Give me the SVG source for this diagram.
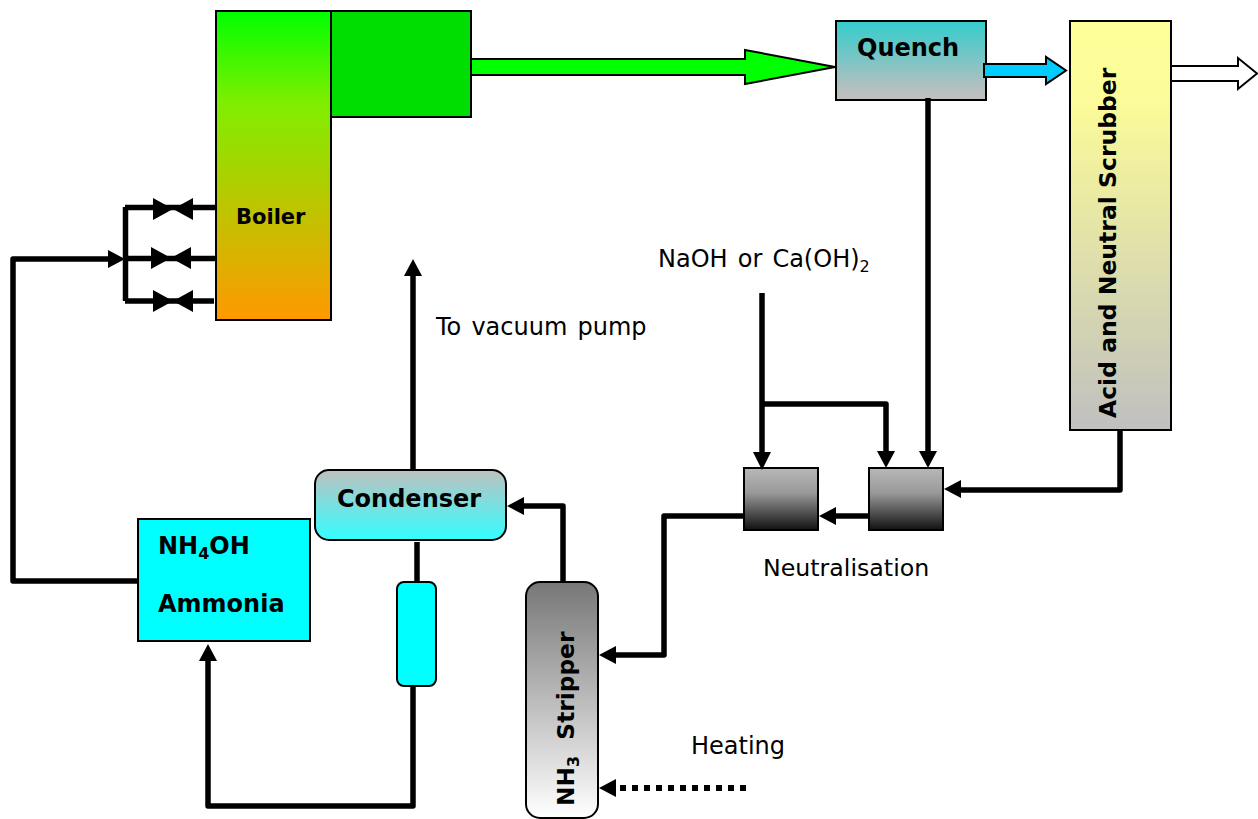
<svg xmlns="http://www.w3.org/2000/svg" width="1258" height="819" viewBox="0 0 1258 819">
<style>
.box{stroke:#000;stroke-width:2}
.w{fill:none;stroke:#000;stroke-width:5.5;stroke-linejoin:round}
.ah{fill:#000;stroke:none}
text{font-family:"DejaVu Sans",Verdana,sans-serif;fill:#000}
.l{font-size:24px;word-spacing:2.5px}
.b{font-size:24px;font-weight:bold}
</style>
<defs>
<linearGradient id="gBoiler" x1="0" y1="0" x2="0" y2="1"><stop offset="0" stop-color="#00ff00"/><stop offset="0.3" stop-color="#80ee00"/><stop offset="1" stop-color="#ff9900"/></linearGradient>
<linearGradient id="gQuench" x1="0" y1="0" x2="0" y2="1"><stop offset="0" stop-color="#33cccc"/><stop offset="0.9" stop-color="#bbbfbf"/><stop offset="1" stop-color="#c0c0c0"/></linearGradient>
<linearGradient id="gScrub" x1="0" y1="0" x2="0" y2="1"><stop offset="0" stop-color="#ffff99"/><stop offset="0.2" stop-color="#fbfb99"/><stop offset="1" stop-color="#c0c0c0"/></linearGradient>
<linearGradient id="gTank" x1="0" y1="0" x2="0" y2="1"><stop offset="0" stop-color="#b8b8b8"/><stop offset="0.4" stop-color="#999"/><stop offset="1" stop-color="#111"/></linearGradient>
<linearGradient id="gCond" x1="0" y1="0" x2="0" y2="1"><stop offset="0" stop-color="#c0c0c0"/><stop offset="1" stop-color="#33ffff"/></linearGradient>
<linearGradient id="gStrip" x1="0" y1="0" x2="0" y2="1"><stop offset="0" stop-color="#777"/><stop offset="1" stop-color="#fff"/></linearGradient>
</defs>
<g id="boiler">
<rect class="box" x="216" y="11" width="115" height="309" fill="url(#gBoiler)"/>
<rect class="box" x="331" y="11" width="140" height="106" fill="#00dd00"/>
<text x="236" y="224" font-size="21" font-weight="bold">Boiler</text>
</g>
<g id="quench">
<rect class="box" x="836" y="21" width="150" height="79" fill="url(#gQuench)"/>
<text x="857" y="56" class="b">Quench</text>
</g>
<g id="scrubber">
<rect class="box" x="1070" y="21" width="101" height="409" fill="url(#gScrub)"/>
<text transform="translate(1116 418) rotate(-90)" class="b" style="font-size:23.5px">Acid and Neutral Scrubber</text>
</g>
<g id="tank1"><rect class="box" x="744" y="468" width="74" height="62" fill="url(#gTank)"/></g>
<g id="tank2"><rect class="box" x="869" y="468" width="74" height="62" fill="url(#gTank)"/></g>
<g id="condenser">
<rect class="box" x="315" y="470" width="191" height="70" rx="14" fill="url(#gCond)"/>
<text x="337" y="507" class="b">Condenser</text>
</g>
<g id="ammonia">
<rect class="box" x="138" y="519" width="172" height="122" fill="#00ffff"/>
<text x="158" y="554" class="b">NH<tspan font-size="16" dy="5">4</tspan><tspan dy="-5">OH</tspan></text>
<text x="158" y="612" class="b">Ammonia</text>
</g>
<g id="cooler"><rect class="box" x="397" y="582" width="39" height="104" rx="7" fill="#00ffff"/></g>
<g id="stripper">
<rect class="box" x="526" y="582" width="72" height="236" rx="14" fill="url(#gStrip)"/>
<text transform="translate(574 806) rotate(-90)" class="b" style="font-size:23.3px">NH<tspan font-size="16" dy="5">3</tspan><tspan dy="-5" xml:space="preserve">  Stripper</tspan></text>
</g>
<g id="connectors">
<path class="w" d="M138 581H13V259H108"/>
<path class="ah" d="M125 259L108 250V268Z"/>
<path class="w" d="M125.500 207V301"/>
<path class="w" d="M125 207.500H216"/>
<path class="w" d="M125 258.500H216"/>
<path class="w" d="M125 301H214"/>
<path class="ah" d="M153 198L173 209L153 220ZM193 198L173 209L193 220Z"/>
<path class="ah" d="M151 247L171 258L151 269ZM191 247L171 258L191 269Z"/>
<path class="ah" d="M153 290L173 301L153 312ZM193 290L173 301L193 312Z"/>
<path d="M471 59H745V50L835 67L745 84V75H471Z" fill="#00ff00" stroke="#000" stroke-width="2"/>
<path d="M984 64H1046V57L1066 70.500L1046 84V77H984Z" fill="#00ccff" stroke="#000" stroke-width="2"/>
<path d="M1171 66H1238V58L1257 73.500L1238 89V81H1171Z" fill="#fff" stroke="#000" stroke-width="2"/>
<path class="w" d="M928 98V451"/>
<path class="ah" d="M928 468L919 451H937Z"/>
<path class="w" d="M762 293V452"/>
<path class="ah" d="M762 470L753 452H771Z"/>
<path class="w" d="M762 404H886V451"/>
<path class="ah" d="M886 468L877 451H895Z"/>
<path class="w" d="M1120 430V490H961"/>
<path class="ah" d="M944 489L961 480V498Z"/>
<path class="w" d="M869 516H836"/>
<path class="ah" d="M819 516L836 507V525Z"/>
<path class="w" d="M744 516H664V655H616"/>
<path class="ah" d="M599 655L616 646V664Z"/>
<path class="w" d="M563 582V506H524"/>
<path class="ah" d="M507 506L524 497V515Z"/>
<path class="w" d="M413 470V276"/>
<path class="ah" d="M413 259L404 276H422Z"/>
<path class="w" d="M417 542V582"/>
<path class="w" d="M413 686V806H208V661"/>
<path class="ah" d="M208 644L199 661H217Z"/>
<path d="M620 788H746" fill="none" stroke="#000" stroke-width="6" stroke-dasharray="6 6"/>
<path class="ah" d="M599 788L616 779V797Z"/>
</g>
<g id="labels">
<text x="658" y="267" class="l">NaOH or Ca(OH)<tspan font-size="16" dy="5">2</tspan></text>
<text x="436" y="335" class="l">To vacuum pump</text>
<text x="763" y="576" class="l" style="font-size:23.7px">Neutralisation</text>
<text x="691" y="754" class="l">Heating</text>
</g>
</svg>
